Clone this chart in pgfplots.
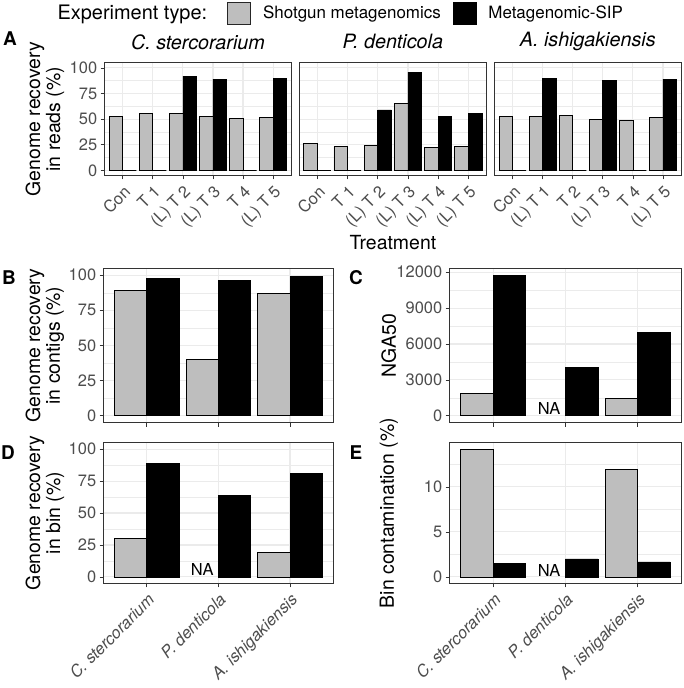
\documentclass[border=0pt]{standalone}
\usepackage{pgfplots}
\pgfplotsset{compat=1.18}
\usepackage{fontspec}
\setmainfont{TeX Gyre Heros}
\definecolor{barg}{HTML}{BEBEBE}
\definecolor{grid92}{HTML}{EBEBEB}
\definecolor{g20}{HTML}{333333}
\definecolor{g30}{HTML}{4D4D4D}
\newcommand{\tfont}{\fontsize{19.5}{20}\selectfont}
\newcommand{\kfont}{\fontsize{16.5}{18}\selectfont}
\pgfplotsset{
  gg/.style={
    scale only axis, anchor=south west,
    axis line style={g20, line width=0.7pt},
    tick style={g20, line width=0.7pt},
    tick align=outside, major tick length=4pt, minor tick length=0pt,
    xtick pos=left, ytick pos=left,
    major grid style={grid92, line width=1.1pt},
    minor grid style={grid92, line width=0.55pt},
    ymajorgrids, yminorgrids, xmajorgrids,
    ticklabel style={font=\kfont, text=g30},
    /pgf/number format/assume math mode=true,
    /pgf/number format/1000 sep={},
    scaled ticks=false,
    label style={font=\tfont, text=black},
    title style={font=\fontsize{19.8}{20}\selectfont\itshape},
  },
  gbar/.style={ybar, bar width=0.45, bar shift=-0.225, fill=barg, draw=black, line width=0.75pt,
    legend image code/.code={\draw[fill=barg, draw=black!85, line width=0.75pt] (0pt,-11pt) rectangle (23pt,11pt);}},
  kbar/.style={ybar, bar width=0.45, bar shift=0.225, fill=black, draw=black, line width=0.75pt,
    legend image code/.code={\draw[fill=black, draw=black, line width=0.75pt] (0pt,-11pt) rectangle (23pt,11pt);}},
  facet/.style={gg, width=187pt, height=113pt, xmin=0.4, xmax=6.6, ymin=-5, ymax=105,
    ytick={0,25,50,75,100}, minor ytick={12.5,37.5,62.5,87.5}, xtick={1,...,6},
    x tick label style={rotate=45, anchor=north east},
    title style={at={(axis description cs:0.5,1.133)}, anchor=center}},
  lower/.style={gg, xmin=0.4, xmax=3.6, xtick={1,2,3}},
}
\begin{document}
\begin{tikzpicture}[x=1pt,y=1pt]
\path (0,0) rectangle (685,688);

% ---------------- Panel A ----------------
\begin{axis}[facet, at={(105pt,512pt)},
  xticklabels={Con,T 1,(L) T 2,(L) T 3,T 4,(L) T 5},
  title={C. stercorarium},
  ylabel={Genome recovery\\in reads (\%)},
  ylabel style={align=center, at={(axis description cs:-0.3209,0.5)}, anchor=center},
  legend columns=-1,
  legend style={draw=none, fill=none, inner sep=0pt, outer sep=0pt,
    at={(axis description cs:0.658,1.4425)}, anchor=west,
    font=\fontsize{17}{19}\selectfont,
    nodes={inner sep=0pt},
    /tikz/every odd column/.append style={column sep=12pt},
    /tikz/every even column/.append style={column sep=12pt}},
  ]
\addplot[gbar] coordinates {(1,53) (2,56) (3,56) (4,53) (5,51) (6,52)};
\addlegendentry{Shotgun metagenomics}
\addplot[kbar] coordinates {(1,0) (2,0) (3,92) (4,89) (5,0) (6,90)};
\addlegendentry{Metagenomic-SIP}
\end{axis}

\begin{axis}[facet, at={(300pt,512pt)}, width=188pt,
  yticklabels={}, ytick style={draw=none},
  xticklabels={Con,T 1,(L) T 2,(L) T 3,(L) T 4,(L) T 5},
  title={P. denticola},
  xlabel={Treatment},
  xlabel style={at={(axis description cs:0.5,-0.593)}, anchor=center},
  ]
\addplot[gbar] coordinates {(1,26) (2,23) (3,24) (4,65) (5,22) (6,23)};
\addplot[kbar] coordinates {(1,0) (2,0) (3,59) (4,96) (5,53) (6,56)};
\end{axis}

\begin{axis}[facet, at={(496pt,512pt)},
  yticklabels={}, ytick style={draw=none},
  xticklabels={Con,(L) T 1,T 2,(L) T 3,T 4,(L) T 5},
  title={A. ishigakiensis},
  ]
\addplot[gbar] coordinates {(1,53) (2,53) (3,54) (4,50) (5,49) (6,52)};
\addplot[kbar] coordinates {(1,0) (2,90) (3,0) (4,88) (5,0) (6,89)};
\end{axis}

% ---------------- Panel B ----------------
\begin{axis}[lower, at={(104pt,264pt)}, width=230pt, height=155pt,
  ymin=-5, ymax=105, ytick={0,25,50,75,100}, minor ytick={12.5,37.5,62.5,87.5},
  xticklabels={},
  ylabel={Genome recovery\\in contigs (\%)},
  ylabel style={align=center, at={(axis description cs:-0.2565,0.5)}, anchor=center},
  ]
\addplot[gbar] coordinates {(1,89) (2,40) (3,87)};
\addplot[kbar] coordinates {(1,98) (2,96) (3,99)};
\end{axis}

% ---------------- Panel C ----------------
\begin{axis}[lower, at={(451pt,264pt)}, width=232pt, height=155pt,
  ymin=-590, ymax=12340, ytick={0,3000,6000,9000,12000}, minor ytick={1500,4500,7500,10500},
  xticklabels={},
  ylabel={NGA50},
  ylabel style={at={(axis description cs:-0.263,0.5)}, anchor=center},
  ]
\addplot[gbar] coordinates {(1,1900) (3,1480)};
\addplot[kbar] coordinates {(1,11750) (2,4030) (3,6950)};
\node[font=\kfont, anchor=base, inner sep=0pt] at (axis cs:1.775,80) {NA};
\end{axis}

% ---------------- Panel D ----------------
\begin{axis}[lower, at={(104pt,103pt)}, width=230pt, height=141pt,
  ymin=-5, ymax=105, ytick={0,25,50,75,100}, minor ytick={12.5,37.5,62.5,87.5},
  xticklabels={\textit{C. stercorarium},\textit{P. denticola},\textit{A. ishigakiensis}},
  x tick label style={rotate=45, anchor=north east},
  ylabel={Genome recovery\\in bin (\%)},
  ylabel style={align=center, at={(axis description cs:-0.2565,0.5)}, anchor=center},
  ]
\addplot[gbar] coordinates {(1,30) (3,19)};
\addplot[kbar] coordinates {(1,89) (2,64) (3,81)};
\node[font=\kfont, anchor=base, inner sep=0pt] at (axis cs:1.775,0.8) {NA};
\end{axis}

% ---------------- Panel E ----------------
\begin{axis}[lower, at={(451pt,103pt)}, width=232pt, height=141pt,
  ymin=-0.71, ymax=14.91, ytick={0,5,10}, minor ytick={2.5,7.5,12.5},
  xticklabels={\textit{C. stercorarium},\textit{P. denticola},\textit{A. ishigakiensis}},
  x tick label style={rotate=45, anchor=north east},
  ylabel={Bin contamination (\%)},
  ylabel style={at={(axis description cs:-0.263,0.5)}, anchor=center},
  ]
\addplot[gbar] coordinates {(1,14.2) (3,11.9)};
\addplot[kbar] coordinates {(1,1.5) (2,2.0) (3,1.67)};
\node[font=\kfont, anchor=base, inner sep=0pt] at (axis cs:1.775,0.1) {NA};
\end{axis}

% ---------------- Legend title and panel letters ----------------
\node[font=\fontsize{20}{20}\selectfont, anchor=base east, inner sep=0pt] at (208,668) {Experiment type:};
\node[font=\fontsize{19}{20}\selectfont\bfseries, anchor=center, inner sep=0pt] at (10,649.5) {A};
\node[font=\fontsize{19}{20}\selectfont\bfseries, anchor=center, inner sep=0pt] at (9,410) {B};
\node[font=\fontsize{19}{20}\selectfont\bfseries, anchor=center, inner sep=0pt] at (357,410) {C};
\node[font=\fontsize{19}{20}\selectfont\bfseries, anchor=center, inner sep=0pt] at (8,234.5) {D};
\node[font=\fontsize{19}{20}\selectfont\bfseries, anchor=center, inner sep=0pt] at (357,234.5) {E};
\end{tikzpicture}
\end{document}
